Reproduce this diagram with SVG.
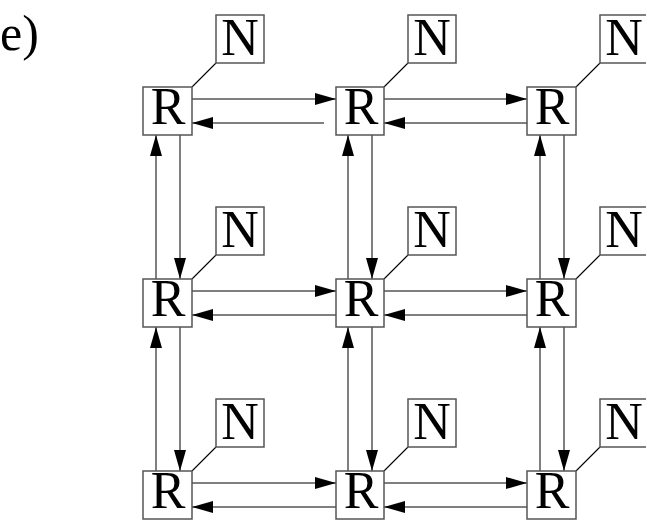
<svg xmlns="http://www.w3.org/2000/svg" width="646" height="522" viewBox="0 0 646 522">
<defs>
<marker id="ah" markerUnits="userSpaceOnUse" markerWidth="21" markerHeight="12" refX="21" refY="6" orient="auto"><path d="M0,0 L21,6 L0,12 z" fill="#000"/></marker>
<style>
.box{fill:#fff;stroke:#555;stroke-width:1.5}
.t{font-family:"Liberation Serif","Times New Roman",serif;font-size:52px;fill:#000;text-anchor:middle}
.c{stroke:#555;stroke-width:1.5;fill:none;marker-end:url(#ah)}
.d{stroke:#000;stroke-width:1.1}
</style>
</defs>
<rect width="646" height="522" fill="#fff"/>
<text x="0" y="50" font-family="Liberation Serif, serif" font-size="50">e)</text>
<g id="connectors">
<line class="c" x1="192" y1="99" x2="336" y2="99"/>
<line class="c" x1="324" y1="123" x2="192" y2="123"/>
<line class="c" x1="384" y1="99" x2="527" y2="99"/>
<line class="c" x1="527" y1="123" x2="384" y2="123"/>
<line class="c" x1="192" y1="291" x2="336" y2="291"/>
<line class="c" x1="336" y1="315" x2="192" y2="315"/>
<line class="c" x1="384" y1="291" x2="527" y2="291"/>
<line class="c" x1="527" y1="315" x2="384" y2="315"/>
<line class="c" x1="192" y1="483" x2="336" y2="483"/>
<line class="c" x1="336" y1="507" x2="192" y2="507"/>
<line class="c" x1="384" y1="483" x2="527" y2="483"/>
<line class="c" x1="527" y1="507" x2="384" y2="507"/>
<line class="c" x1="156" y1="279" x2="156" y2="135"/>
<line class="c" x1="180" y1="135" x2="180" y2="279"/>
<line class="c" x1="156" y1="471" x2="156" y2="327"/>
<line class="c" x1="180" y1="327" x2="180" y2="471"/>
<line class="c" x1="348" y1="279" x2="348" y2="135"/>
<line class="c" x1="372" y1="135" x2="372" y2="279"/>
<line class="c" x1="348" y1="471" x2="348" y2="327"/>
<line class="c" x1="372" y1="327" x2="372" y2="471"/>
<line class="c" x1="540" y1="279" x2="540" y2="135"/>
<line class="c" x1="564" y1="135" x2="564" y2="279"/>
<line class="c" x1="540" y1="471" x2="540" y2="327"/>
<line class="c" x1="564" y1="327" x2="564" y2="471"/>
<line class="d" x1="192" y1="87" x2="216" y2="63"/>
<line class="d" x1="384" y1="87" x2="408" y2="63"/>
<line class="d" x1="576" y1="87" x2="600" y2="63"/>
<line class="d" x1="192" y1="279" x2="216" y2="255"/>
<line class="d" x1="384" y1="279" x2="408" y2="255"/>
<line class="d" x1="576" y1="279" x2="600" y2="255"/>
<line class="d" x1="192" y1="471" x2="216" y2="447"/>
<line class="d" x1="384" y1="471" x2="408" y2="447"/>
<line class="d" x1="576" y1="471" x2="600" y2="447"/>
</g>
<g id="R11"><rect class="box" x="143" y="87" width="49" height="48"/><text class="t" x="168" y="124">R</text></g>
<g id="R12"><rect class="box" x="336" y="87" width="48" height="48"/><text class="t" x="361" y="124">R</text></g>
<g id="R13"><rect class="box" x="527" y="87" width="49" height="48"/><text class="t" x="552" y="124">R</text></g>
<g id="R21"><rect class="box" x="143" y="279" width="49" height="48"/><text class="t" x="168" y="316">R</text></g>
<g id="R22"><rect class="box" x="336" y="279" width="48" height="48"/><text class="t" x="361" y="316">R</text></g>
<g id="R23"><rect class="box" x="527" y="279" width="49" height="48"/><text class="t" x="552" y="316">R</text></g>
<g id="R31"><rect class="box" x="143" y="471" width="49" height="48"/><text class="t" x="168" y="508">R</text></g>
<g id="R32"><rect class="box" x="336" y="471" width="48" height="48"/><text class="t" x="361" y="508">R</text></g>
<g id="R33"><rect class="box" x="527" y="471" width="49" height="48"/><text class="t" x="552" y="508">R</text></g>
<g id="N11"><rect class="box" x="216" y="15" width="48" height="48"/><text class="t" x="240" y="55">N</text></g>
<g id="N12"><rect class="box" x="408" y="15" width="48" height="48"/><text class="t" x="432" y="55">N</text></g>
<g id="N13"><rect class="box" x="600" y="15" width="48" height="48"/><text class="t" x="624" y="55">N</text></g>
<g id="N21"><rect class="box" x="216" y="207" width="48" height="48"/><text class="t" x="240" y="247">N</text></g>
<g id="N22"><rect class="box" x="408" y="207" width="48" height="48"/><text class="t" x="432" y="247">N</text></g>
<g id="N23"><rect class="box" x="600" y="207" width="48" height="48"/><text class="t" x="624" y="247">N</text></g>
<g id="N31"><rect class="box" x="216" y="399" width="48" height="48"/><text class="t" x="240" y="439">N</text></g>
<g id="N32"><rect class="box" x="408" y="399" width="48" height="48"/><text class="t" x="432" y="439">N</text></g>
<g id="N33"><rect class="box" x="600" y="399" width="48" height="48"/><text class="t" x="624" y="439">N</text></g>
</svg>
